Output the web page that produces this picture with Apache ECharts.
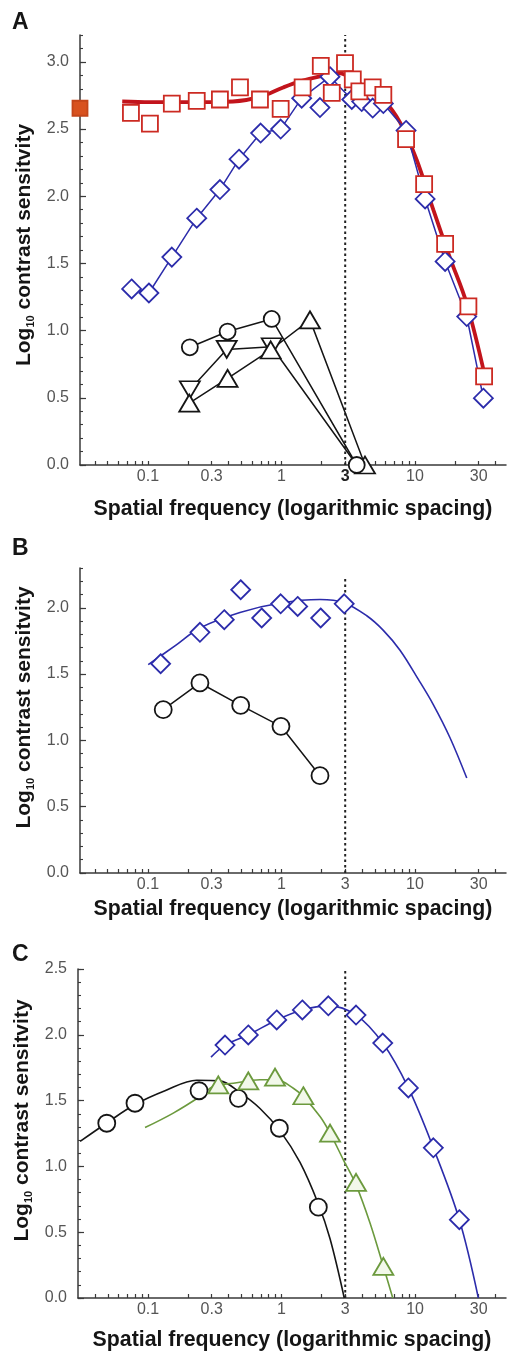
<!DOCTYPE html>
<html><head><meta charset="utf-8">
<script src="https://cdn.jsdelivr.net/npm/echarts@6/dist/echarts.min.js"></script>
<style>html,body{margin:0;padding:0;background:#fff}#c{width:512px;height:1352px}</style>
</head><body><div id="c"></div>
<script>
// ---------- text ----------
const panelLetters = ['A', 'B', 'C'];
const xAxisTitle = 'Spatial frequency (logarithmic spacing)';
const yAxisTitleRich = '{t|Log}{s|10}{t| contrast sensitvity}';

// ---------- ticks ----------
const xTickValues = [0.04,0.05,0.06,0.07,0.08,0.09,0.1,0.2,0.3,0.4,0.5,0.6,0.7,0.8,0.9,1,2,3,4,5,6,7,8,9,10,20,30,40];
const xTickLabels = [0.1, 0.3, 1, 3, 10, 30];
const yTicksA = [0, 0.5, 1, 1.5, 2, 2.5, 3];
const yTicksB = [0, 0.5, 1, 1.5, 2];
const yTicksC = [0, 0.5, 1, 1.5, 2, 2.5];
const yMaxes = [3.2, 2.3, 2.5];
const xMinFreq = [0.031, 0.031, 0.0299];
const xMaxFreq = 48;

// ---------- dotted reference line (spatial frequency 3) ----------
const refFreq = 3;
const refTop = [3.2, 2.22, 2.5];

// ---------- panel A (frequency, log10 CS) ----------
const aRedSquares = [[0.0746,2.62],[0.1035,2.54],[0.151,2.69],[0.232,2.71],[0.346,2.72],[0.489,2.81],[0.69,2.72],[0.986,2.65],[1.44,2.81],[1.97,2.97],[2.38,2.77],[2.99,2.99],[3.42,2.87],[3.83,2.78],[4.82,2.81],[5.79,2.755],[8.57,2.425],[11.7,2.09],[16.8,1.645],[25.1,1.18],[32.9,0.66]];
const aFilledSquare = [[0.031, 2.655]];
const aRedCurve = [[0.0642,2.705],[0.1035,2.70],[0.245,2.70],[0.4335,2.705],[0.69,2.74],[1.03,2.81],[1.376,2.855],[1.835,2.887],[2.443,2.91],[2.743,2.915],[3.45,2.867],[4.35,2.805],[5.79,2.72],[7.72,2.55],[10.3,2.27],[13.7,1.90],[18.3,1.54],[24.4,1.20],[33.4,0.66]];
const aBlueDiamonds = [[0.0755,1.31],[0.1017,1.28],[0.151,1.547],[0.232,1.837],[0.346,2.05],[0.481,2.276],[0.698,2.47],[0.986,2.50],[1.417,2.73],[1.942,2.66],[2.308,2.89],[3.36,2.72],[3.99,2.705],[4.82,2.656],[5.79,2.69],[8.57,2.49],[11.9,1.98],[16.8,1.515],[24.4,1.105],[32.5,0.497]];
const aBlueLine = [[0.0755,1.31],[0.1017,1.28],[0.151,1.547],[0.232,1.837],[0.346,2.05],[0.481,2.276],[0.698,2.47],[0.986,2.50],[1.417,2.73],[2.308,2.89],[3.36,2.72],[3.99,2.705],[4.82,2.656],[5.79,2.69],[8.57,2.49],[11.9,1.98],[16.8,1.515],[24.4,1.105],[32.5,0.497]];
const aCircles = [[0.206,0.876],[0.395,0.993],[0.845,1.087],[3.66,0]];
const aDownTriangles = [[0.206,0.56],[0.389,0.86],[0.845,0.88],[3.66,0]];
const aUpTriangles = [[0.204,0.46],[0.395,0.645],[0.83,0.856],[1.635,1.08],[4.22,0]];

// ---------- panel B ----------
const bDiamonds = [[0.1245,1.578],[0.2452,1.815],[0.373,1.91],[0.495,2.136],[0.711,1.923],[0.986,2.03],[1.322,2.01],[1.966,1.923],[2.95,2.03]];
const bBlueCurve = [[0.1005,1.571],[0.1593,1.713],[0.2452,1.848],[0.4888,1.965],[0.9863,2.036],[1.943,2.062],[2.904,2.04],[4.35,1.94],[5.79,1.83],[7.72,1.68],[10.59,1.46],[13.7,1.27],[18.28,1.02],[24.4,0.716]];
const bCircles = [[0.1302,1.232],[0.2452,1.433],[0.4949,1.264],[0.9914,1.106],[1.943,0.734]];

// ---------- panel C ----------
const cDiamonds = [[0.3774,1.922],[0.564,1.999],[0.9205,2.113],[1.432,2.189],[2.242,2.22],[3.614,2.15],[5.73,1.937],[8.91,1.596],[13.71,1.141],[21.47,0.595]];
const cBlueCurve = [[0.2964,1.83],[0.3774,1.922],[0.564,1.999],[0.9205,2.113],[1.432,2.189],[2.242,2.22],[3.614,2.15],[5.73,1.937],[8.91,1.596],[13.71,1.141],[21.47,0.595],[29.8,0]];
const cTriangles = [[0.3362,1.62],[0.564,1.65],[0.894,1.678],[1.457,1.537],[2.309,1.253],[3.614,0.879],[5.79,0.24]];
const cGreenCurve = [[0.095,1.295],[0.1546,1.405],[0.2452,1.531],[0.3085,1.607],[0.4355,1.632],[0.69,1.658],[0.92,1.658],[1.226,1.594],[1.457,1.53],[1.943,1.379],[2.309,1.253],[2.904,1.05],[3.614,0.86],[4.6,0.57],[5.79,0.24],[6.81,0]];
const cCircles = [[0.0491,1.328],[0.0799,1.48],[0.241,1.575],[0.475,1.517],[0.963,1.29],[1.887,0.69]];
const cBlackCurve = [[0.031,1.19],[0.0491,1.33],[0.0799,1.47],[0.134,1.575],[0.2317,1.655],[0.346,1.65],[0.4888,1.56],[0.69,1.44],[0.9745,1.27],[1.376,1.03],[1.877,0.72],[2.309,0.45],[2.95,0]];

// ---------- styling ----------
const FONT = '"Liberation Sans", Arial, Helvetica, sans-serif';
const BLUE = '#2c2cab', RED = '#cc2a22', REDLINE = '#c2141c', ORANGE = '#d8521f';
const GREEN = '#6c9a3e', GREENFILL = '#f2f8ea', BLACK = '#151515', AXIS = '#3a3a3a', LABEL = '#555';

const grids = [
  {left: 80, top: 35, width: 426, height: 430},
  {left: 80, top: 568, width: 426, height: 305},
  {left: 78, top: 969, width: 428, height: 329}
];
const xNameGaps = [34, 26, 32];
const yNamePads = [10, 26, 26];
const letterTops = [11, 537, 943];

const lg = arr => arr.map(p => [Math.log10(p[0]), p[1]]);

const xAxes = grids.map((g, i) => ({
  type: 'value', gridIndex: i,
  min: Math.log10(xMinFreq[i]), max: Math.log10(xMaxFreq),
  axisLine: {show: true, onZero: false, lineStyle: {color: AXIS, width: 1.5}},
  axisTick: {show: true, inside: true, length: 4, customValues: xTickValues.map(Math.log10), lineStyle: {color: AXIS, width: 1.2}},
  axisLabel: {
    customValues: xTickLabels.map(Math.log10), margin: 4, fontSize: 16, color: LABEL, fontFamily: FONT,
    formatter: v => {
      let best = xTickLabels[0];
      xTickLabels.forEach(t => { if (Math.abs(Math.log10(t) - v) < Math.abs(Math.log10(best) - v)) best = t; });
      return (i === 0 && best === 3) ? '{b|3}' : String(best);
    },
    rich: {b: {fontSize: 16, fontWeight: 'bold', color: '#222', fontFamily: FONT}}
  },
  splitLine: {show: false},
  name: xAxisTitle, nameLocation: 'middle', nameGap: xNameGaps[i], nameMoveOverlap: false,
  nameTextStyle: {fontSize: 21.3, fontWeight: 'bold', color: BLACK, fontFamily: FONT}
}));

const yTickSets = [yTicksA, yTicksB, yTicksC];
const yAxes = [];
grids.forEach((g, i) => {
  yAxes.push({
    type: 'value', gridIndex: i, position: 'left', min: 0, max: yMaxes[i],
    axisLine: {show: true, onZero: false, lineStyle: {color: AXIS, width: 1.5}},
    axisTick: {show: true, inside: true, length: 6, customValues: yTickSets[i], lineStyle: {color: AXIS, width: 1.2}},
    axisLabel: {customValues: yTickSets[i], formatter: v => v.toFixed(1), margin: 11, fontSize: 16, color: LABEL, fontFamily: FONT},
    splitLine: {show: false},
    name: yAxisTitleRich, nameLocation: 'middle', nameGap: 44, nameMoveOverlap: false,
    nameTextStyle: {
      padding: [0, 0, 0, yNamePads[i]],
      rich: {
        t: {fontSize: 21, fontWeight: 'bold', color: BLACK, fontFamily: FONT, lineHeight: 23},
        s: {fontSize: 11, fontWeight: 'bold', color: BLACK, fontFamily: FONT, verticalAlign: 'bottom', lineHeight: 12}
      }
    }
  });
  yAxes.push({
    type: 'value', gridIndex: i, position: 'left', offset: 0, min: 0, max: yMaxes[i], interval: 0.1,
    axisLine: {show: false, onZero: false}, axisLabel: {show: false}, splitLine: {show: false},
    axisTick: {show: true, inside: true, length: 3, lineStyle: {color: AXIS, width: 1.1}}
  });
});

const base = g => ({xAxisIndex: g, yAxisIndex: 2 * g, animation: false, silent: true, emphasis: {disabled: true}});
const curve = (g, data, color, width) => Object.assign(base(g), {
  type: 'line', data: lg(data), smooth: 0.35, symbol: 'none', showSymbol: false,
  lineStyle: {color: color, width: width}, z: 2
});
const linked = (g, data, symbol, size, color, extra) => Object.assign(base(g), {
  type: 'line', data: lg(data), smooth: false, symbol: symbol, symbolSize: size, showSymbol: true, showAllSymbol: true,
  lineStyle: {color: color, width: 1.5}, itemStyle: {color: '#fff', borderColor: color, borderWidth: 1.8}, z: 3
}, extra || {});
const marks = (g, data, symbol, size, color, fill, extra) => Object.assign(base(g), {
  type: 'scatter', data: lg(data), symbol: symbol, symbolSize: size,
  itemStyle: {color: fill, borderColor: color, borderWidth: 1.8, opacity: 1}, z: 4
}, extra || {});
const refLine = g => Object.assign(base(g), {
  type: 'line', data: [[Math.log10(refFreq), 0], [Math.log10(refFreq), refTop[g]]], symbol: 'none',
  lineStyle: {color: '#222', width: 2, type: [2.5, 3]}, z: 1
});

const TRI = [20, 17];
const series = [
  // panel A
  refLine(0),
  linked(0, aBlueLine, 'none', 0, BLUE),
  marks(0, aBlueDiamonds, 'diamond', 19, BLUE, '#fff'),
  curve(0, aRedCurve, REDLINE, 3.8),
  marks(0, aRedSquares, 'rect', 16, RED, '#fff'),
  marks(0, aFilledSquare, 'rect', 15, '#c4461a', ORANGE, {clip: false}),
  linked(0, aDownTriangles, (val) => (val[1] === 0 ? 'none' : 'triangle'), TRI, BLACK, {symbolRotate: 180}),
  linked(0, aUpTriangles, 'triangle', TRI, BLACK),
  linked(0, aCircles, 'circle', 16, BLACK),
  // panel B
  refLine(1),
  curve(1, bBlueCurve, BLUE, 1.6),
  marks(1, bDiamonds, 'diamond', 19, BLUE, '#fff'),
  linked(1, bCircles, 'circle', 17, BLACK),
  // panel C
  refLine(2),
  curve(2, cBlackCurve, BLACK, 1.6),
  curve(2, cGreenCurve, GREEN, 1.6),
  curve(2, cBlueCurve, BLUE, 1.6),
  marks(2, cCircles, 'circle', 17, BLACK, '#fff'),
  marks(2, cTriangles, 'triangle', TRI, GREEN, GREENFILL),
  marks(2, cDiamonds, 'diamond', 19, BLUE, '#fff')
];

const titles = panelLetters.map((t, i) => ({
  text: t, left: 12, top: letterTops[i], padding: 0,
  textStyle: {fontSize: 23, fontWeight: 'bold', color: BLACK, fontFamily: FONT}
}));

const chart = echarts.init(document.getElementById('c'), null, {renderer: 'canvas'});
chart.setOption({
  animation: false,
  backgroundColor: '#fff',
  title: titles,
  grid: grids.map(g => Object.assign({outerBoundsMode: 'none', containLabel: false}, g)),
  xAxis: xAxes,
  yAxis: yAxes,
  series: series
});
</script></body></html>
